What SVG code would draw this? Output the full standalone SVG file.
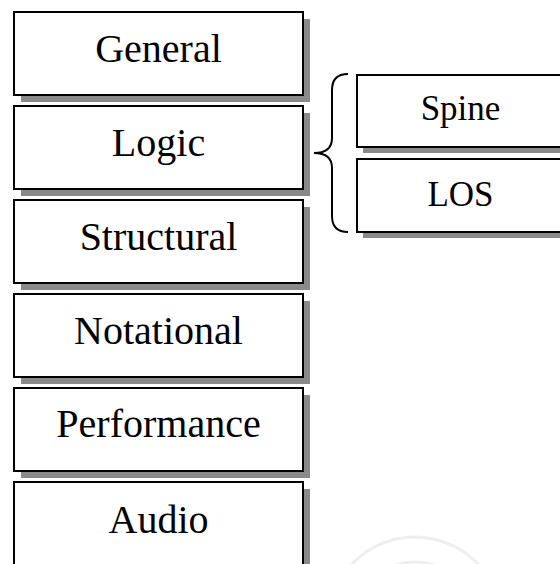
<svg xmlns="http://www.w3.org/2000/svg" width="560" height="564" viewBox="0 0 560 564">
  <style>
    .shadow { fill: #8a8a8a; }
    .box { fill: #ffffff; stroke: #000000; stroke-width: 2; }
    .lbl { font-family: "Liberation Serif", "Times New Roman", serif; font-size: 40px; fill: #000000; text-anchor: middle; }
    .lbl2 { font-family: "Liberation Serif", "Times New Roman", serif; font-size: 35px; fill: #000000; text-anchor: middle; }
    .brace { fill: none; stroke: #000000; stroke-width: 2; }
    .wm { fill: none; stroke: #eeeeee; stroke-width: 3; }
  </style>
  <rect width="560" height="564" fill="#ffffff"/>
  <circle class="wm" cx="415" cy="624" r="87"/>
  <circle class="wm" cx="415" cy="624" r="62"/>

  <g id="general">
    <rect class="shadow" x="21" y="19" width="289" height="83"/>
    <rect class="box" x="14" y="12" width="289" height="83"/>
    <text class="lbl" x="158.5" y="62">General</text>
  </g>
  <g id="logic">
    <rect class="shadow" x="21" y="113" width="289" height="83"/>
    <rect class="box" x="14" y="106" width="289" height="83"/>
    <text class="lbl" x="158.5" y="156">Logic</text>
  </g>
  <g id="structural">
    <rect class="shadow" x="21" y="207" width="289" height="83"/>
    <rect class="box" x="14" y="200" width="289" height="83"/>
    <text class="lbl" x="158.5" y="250">Structural</text>
  </g>
  <g id="notational">
    <rect class="shadow" x="21" y="301" width="289" height="83"/>
    <rect class="box" x="14" y="294" width="289" height="83"/>
    <text class="lbl" x="158.5" y="344">Notational</text>
  </g>
  <g id="performance">
    <rect class="shadow" x="21" y="395" width="289" height="83"/>
    <rect class="box" x="14" y="388" width="289" height="83"/>
    <text class="lbl" x="158.5" y="437">Performance</text>
  </g>
  <g id="audio">
    <rect class="shadow" x="21" y="489" width="289" height="83"/>
    <rect class="box" x="14" y="482" width="289" height="83"/>
    <text class="lbl" x="158.5" y="533">Audio</text>
  </g>

  <g id="spine">
    <rect class="shadow" x="363" y="81" width="208" height="72"/>
    <rect class="box" x="357" y="75" width="208" height="72"/>
    <text class="lbl2" x="460.5" y="120">Spine</text>
  </g>
  <g id="los">
    <rect class="shadow" x="363" y="165" width="208" height="73"/>
    <rect class="box" x="357" y="159" width="208" height="73"/>
    <text class="lbl2" x="460.5" y="206">LOS</text>
  </g>

  <g id="connectors">
    <path class="brace" d="M 348 74 C 337 74 332 79 332 90 L 332 138 C 332 148 326 153 314 153 C 326 153 332 158 332 168 L 332 216 C 332 227 337 232 348 232"/>
  </g>
</svg>
